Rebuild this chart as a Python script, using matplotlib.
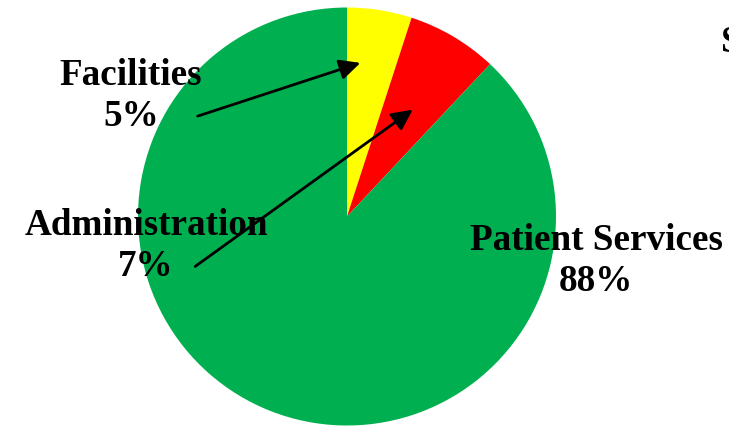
import matplotlib.pyplot as plt

# budget split
labels = ['Facilities', 'Administration', 'Patient Services']
shares = [5, 7, 88]
colors = ['#FFFF00', '#FF0000', '#00B050']

# label text positions and arrow tips (pixel coords)
label_pos = [(131, 96), (146, 246), (596, 261)]
arrow_from = [(195, 117), (193, 268), None]
arrow_to = [(363, 62), (415, 108), None]

fig = plt.figure(figsize=(7.29, 4.26), dpi=100)
ax = fig.add_axes([0, 0, 1, 1])

# y axis is flipped below, so start at -90 and go counter-clockwise in data
ax.pie(shares, colors=colors, startangle=-90, counterclock=True,
       center=(347, 216.5), radius=209, frame=True,
       wedgeprops={'linewidth': 0})

ax.set_xlim(0, 729)
ax.set_ylim(426, 0)
ax.set_aspect('equal')
ax.axis('off')

font = {'family': 'Liberation Serif', 'weight': 'bold', 'size': 26.7}

for name, pct, pos, a0, a1 in zip(labels, shares, label_pos, arrow_from, arrow_to):
    ax.text(pos[0], pos[1], f'{name}\n{pct}%', ha='center', va='center',
            linespacing=1.25, fontdict=font)
    if a0 is not None:
        ax.annotate('', xy=a1, xytext=a0,
                    arrowprops=dict(arrowstyle='-|>,head_length=0.45,head_width=0.22',
                                    color='black', lw=2, mutation_scale=28))

# cut-off title at the right edge
ax.text(721, 43, 'S', ha='left', va='center', fontdict=font)

fig.savefig('out.png', dpi=100)
